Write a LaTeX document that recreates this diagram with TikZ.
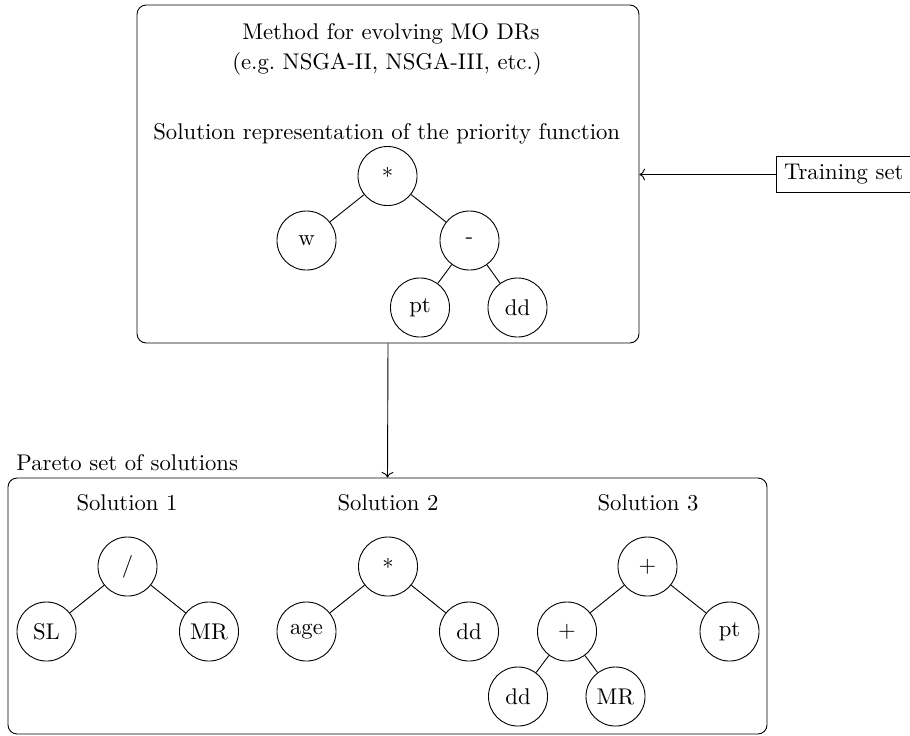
\documentclass[tikz,border=0pt]{standalone}
\usetikzlibrary{arrows.meta}
\begin{document}
\begin{tikzpicture}[x=0.4403pt,y=-0.4403pt,
  tn/.style={circle,draw,minimum size=26pt,inner sep=0pt},
  bigbox/.style={draw,rounded corners=4pt,inner sep=0pt},
  lbl/.style={inner sep=0pt,anchor=center},
  arr/.style={->}]
\useasboundingbox (0,0) rectangle (910,735);
% top box
\node[bigbox,minimum width=221.0pt,minimum height=148.8pt] (top) at (388,174) {};
\node[lbl] (t1) at (391,34) {Method for evolving MO DRs};
\node[lbl] (t2) at (387,64) {(e.g.\ NSGA-II, NSGA-III, etc.)};
\node[lbl] (t3) at (386.7,134) {Solution representation of the priority function};
% top tree
\node[tn] (a) at (387.5,176) {*};
\node[tn] (aw) at (306.5,240.5) {w};
\node[tn] (am) at (469.5,240.5) {-};
\node[tn] (ap) at (420,307.5) {pt};
\node[tn] (ad) at (517.5,307.5) {dd};
\draw (a) -- (aw); \draw (a) -- (am);
\draw (am) -- (ap); \draw (am) -- (ad);
% training set
\node[draw,anchor=west] (ts) at (776,174.5) {Training set};
\draw[arr] (ts.west) -- (top.east |- ts.west);
% bottom box
\node[bigbox,minimum width=334.2pt,minimum height=112.7pt] (bot) at (387.5,606) {};
\node[lbl,anchor=west] (pl) at (16,463) {Pareto set of solutions};
\draw[arr] (top.south) -- (bot.north);
\node[lbl] (s1) at (127,503) {Solution 1};
\node[lbl] (s2) at (388,503) {Solution 2};
\node[lbl] (s3) at (648,503) {Solution 3};
% solution 1
\node[tn] (b) at (127.5,566.5) {/};
\node[tn] (bs) at (46.5,631.5) {SL};
\node[tn] (bm) at (209,631.5) {MR};
\draw (b) -- (bs); \draw (b) -- (bm);
% solution 2
\node[tn] (c) at (388,566.5) {*};
\node[tn] (ca) at (306.5,631.5) {age};
\node[tn] (cd) at (469,631.5) {dd};
\draw (c) -- (ca); \draw (c) -- (cd);
% solution 3
\node[tn] (d) at (647.5,566.5) {+};
\node[tn] (dp2) at (567,631.5) {+};
\node[tn] (dpt) at (729.5,631.5) {pt};
\node[tn] (dd) at (518,696.5) {dd};
\node[tn] (dm) at (615.5,696.5) {MR};
\draw (d) -- (dp2); \draw (d) -- (dpt);
\draw (dp2) -- (dd); \draw (dp2) -- (dm);
\end{tikzpicture}
\end{document}
